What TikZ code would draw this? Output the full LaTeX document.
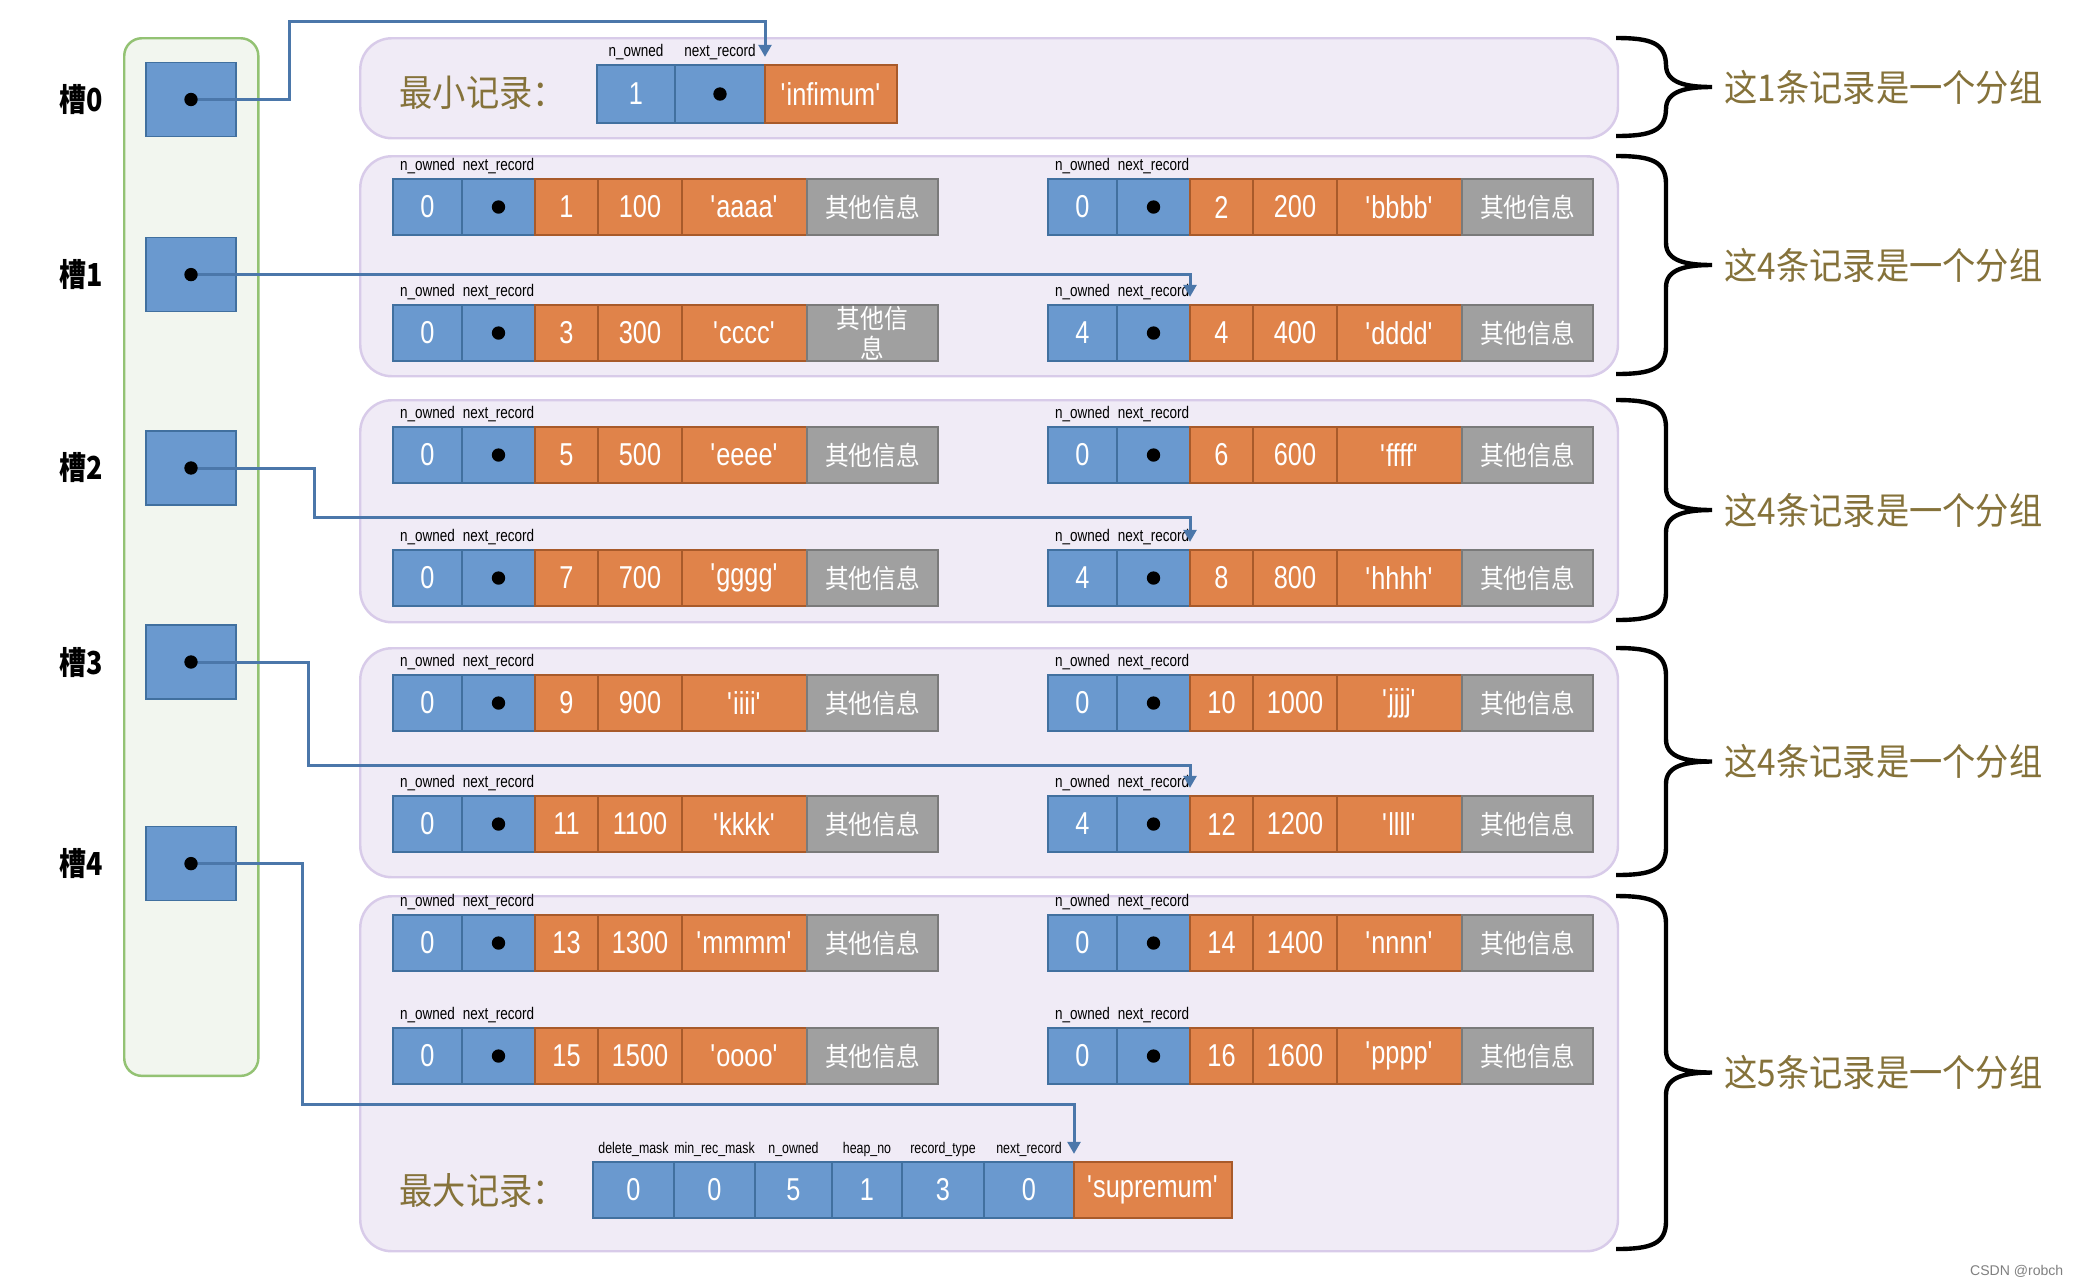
\documentclass[tikz,border=0pt]{standalone}
\usepackage{fontspec}
\setmainfont{Liberation Sans}
\newfontfamily\numfont[FakeStretch=0.8]{Liberation Sans}
\newfontfamily\cjkfont[FakeStretch=0.9]{Noto Sans CJK SC}
\newfontfamily\cjkslot[FakeStretch=0.85]{Noto Sans CJK SC}
\usetikzlibrary{positioning,arrows.meta}

\definecolor{cellblue}{HTML}{6A99CF}
\definecolor{blueedge}{HTML}{41709F}
\definecolor{cellorange}{HTML}{E0834A}
\definecolor{orangeedge}{HTML}{A85A2A}
\definecolor{cellgray}{HTML}{A0A0A0}
\definecolor{grayedge}{HTML}{7A7A7A}
\definecolor{grpfill}{HTML}{F0EBF6}
\definecolor{grpedge}{HTML}{D8CBE9}
\definecolor{colfill}{HTML}{F2F6EF}
\definecolor{coledge}{HTML}{93C273}
\definecolor{ptrblue}{HTML}{4B77AA}
\definecolor{tagbrown}{HTML}{85723A}

% one cell: name, x left, x right, y top, style, text
\newcommand{\mkcell}[6]{\node[#5, minimum width={(#3-#2)*0.01cm}] (#1) at (#2,#4) {#6};}

% one user record: name, x shift, y top, n_owned, no, num, str, rest
\newcommand{\recrow}[8]{%
  \begin{scope}[shift={(#2,0)}]
    \mkcell{#1n}{393}{462}{#3}{bluecell}{#4}
    \mkcell{#1p}{462}{535}{#3}{bluecell}{}
    \mkcell{#1a}{535}{598}{#3}{orangecell}{#5}
    \mkcell{#1b}{598}{682}{#3}{orangecell}{#6}
    \mkcell{#1c}{682}{807}{#3}{orangecell}{\textquotesingle#7\textquotesingle}
    \mkcell{#1o}{807}{938}{#3}{graycell}{#8}
    \fill (#1p) circle[radius=1.9pt];
    \node[fieldlbl] (#1nl) at ([yshift=2.4pt]#1n.north) {n\_owned};
    \node[fieldlbl] (#1pl) at ([yshift=2.4pt]#1p.north) {next\_record};
    \coordinate (#1t) at ([yshift=2.3pt]#1a.north west);
  \end{scope}}

\begin{document}
\begin{tikzpicture}[x=0.01cm, y=-0.01cm,
    bluecell/.style={draw=blueedge, fill=cellblue, anchor=north west, minimum height=0.56cm,
        inner sep=0pt, outer sep=0pt, text=white, font=\numfont\fontsize{9}{10}\selectfont},
    orangecell/.style={bluecell, draw=orangeedge, fill=cellorange},
    graycell/.style={bluecell, draw=grayedge, fill=cellgray, align=center,
        font=\cjkfont\fontsize{7.5}{8.5}\selectfont},
    fieldlbl/.style={font=\numfont\fontsize{4.8}{5.5}\selectfont, inner sep=0pt, anchor=base},
    maxlbl/.style={fieldlbl, font=\numfont\fontsize{4.4}{5}\selectfont},
    grp/.style={draw=grpedge, fill=grpfill, line width=0.7pt, rounded corners=9pt,
        anchor=north west, inner sep=0pt, minimum width=12.57cm},
    column/.style={draw=coledge, fill=colfill, line width=0.7pt, rounded corners=5pt,
        anchor=north west, inner sep=0pt, minimum width=1.34cm, minimum height=10.37cm},
    slotbox/.style={draw=blueedge, fill=cellblue, minimum width=0.9cm, minimum height=0.74cm, inner sep=0pt},
    slotlbl/.style={font=\cjkslot\bfseries\fontsize{9}{10}\selectfont, inner sep=0pt},
    ptr/.style={draw=ptrblue, line width=0.85pt, -{Triangle[length=3.4pt,width=3.6pt]}},
    brc/.style={line width=1.25pt, line join=miter},
    tag/.style={text=tagbrown, font=\cjkfont\fontsize{10.5}{12}\selectfont, anchor=west, inner sep=0pt}]

    \fill[white] (0,0) rectangle (2080,1284);
    \useasboundingbox (0,0) rectangle (2080,1284);

    % groups and braces
    \foreach \i/\ya/\yb/\n in {0/37/137/1, 1/155/375/4, 2/399/621/4, 3/647/876/4, 4/895/1250/5} {
        \node[grp, minimum height={(\yb-\ya)*0.01cm}] (g\i) at (359,\ya) {};
        \pgfmathsetmacro{\m}{(\ya+\yb)/2}
        \draw[brc] (1616,\ya+1) .. controls (1651,\ya+1) and (1666,\ya+6) .. (1666,\ya+29)
            -- (1666,\m-22) .. controls (1666,\m-4) and (1686,\m) .. (1712,\m)
            .. controls (1686,\m) and (1666,\m+4) .. (1666,\m+22)
            -- (1666,\yb-29) .. controls (1666,\yb-6) and (1651,\yb-1) .. (1616,\yb-1);
        \node[tag] (t\i) at (1724,\m) {这{\n}条记录是一个分组};
    }

    % slot directory
    \node[column] (dir) at (123,37) {};
    \foreach \i/\y in {0/99.5, 1/274.6, 2/468, 3/662, 4/863.6} {
        \node[slotbox] (s\i) at (191,\y) {};
        \node[slotlbl, left=0.42cm of s\i] (l\i) {槽{\i}};
    }

    % infimum
    \node[tag] (minlbl) at (399,93) {最小记录：};
    \mkcell{minn}{597}{675}{65}{bluecell, minimum height=0.58cm}{1}
    \mkcell{minp}{675}{765}{65}{bluecell, minimum height=0.58cm}{}
    \mkcell{mins}{765}{897}{65}{orangecell, minimum height=0.58cm}{\textquotesingle infimum\textquotesingle}
    \fill (minp) circle[radius=1.9pt];
    \node[fieldlbl] (minnl) at ([yshift=2.4pt]minn.north) {n\_owned};
    \node[fieldlbl] (minpl) at ([yshift=2.4pt]minp.north) {next\_record};
    \coordinate (mint) at ([yshift=2.3pt]mins.north west);

    % user records
    \recrow{g1la}{0}{179}{0}{1}{100}{aaaa}{其他信息}
    \recrow{g1ra}{655}{179}{0}{2}{200}{bbbb}{其他信息}
    \recrow{g1lb}{0}{305}{0}{3}{300}{cccc}{其他信\\息}
    \recrow{g1rb}{655}{305}{4}{4}{400}{dddd}{其他信息}
    \recrow{g2la}{0}{427}{0}{5}{500}{eeee}{其他信息}
    \recrow{g2ra}{655}{427}{0}{6}{600}{ffff}{其他信息}
    \recrow{g2lb}{0}{550}{0}{7}{700}{gggg}{其他信息}
    \recrow{g2rb}{655}{550}{4}{8}{800}{hhhh}{其他信息}
    \recrow{g3la}{0}{675}{0}{9}{900}{iiii}{其他信息}
    \recrow{g3ra}{655}{675}{0}{10}{1000}{jjjj}{其他信息}
    \recrow{g3lb}{0}{796}{0}{11}{1100}{kkkk}{其他信息}
    \recrow{g3rb}{655}{796}{4}{12}{1200}{llll}{其他信息}
    \recrow{g4la}{0}{915}{0}{13}{1300}{mmmm}{其他信息}
    \recrow{g4ra}{655}{915}{0}{14}{1400}{nnnn}{其他信息}
    \recrow{g4lb}{0}{1028}{0}{15}{1500}{oooo}{其他信息}
    \recrow{g4rb}{655}{1028}{0}{16}{1600}{pppp}{其他信息}

    % supremum
    \node[tag] (maxlbl) at (399,1190) {最大记录：};
    \foreach \k/\xa/\xb/\v/\f in {1/593/674/0/delete\_mask, 2/674/755/0/min\_rec\_mask,
        3/755/832/5/n\_owned, 4/832/902/1/heap\_no, 5/902/984/3/record\_type, 6/984/1074/0/next\_record} {
        \mkcell{mx\k}{\xa}{\xb}{1162}{bluecell}{\v}
        \node[maxlbl] (mxl\k) at ([yshift=2.4pt]mx\k.north) {\f};
    }
    \mkcell{mxs}{1074}{1232}{1162}{orangecell}{\textquotesingle supremum\textquotesingle}
    \coordinate (maxt) at ([yshift=2.3pt]mxs.north west);

    % slot pointers
    \draw[ptr] (s0.center) -| (289,21) -| (mint);
    \draw[ptr] (s1.center) -| (g1rbt);
    \draw[ptr] (s2.center) -| (314,517) -| (g2rbt);
    \draw[ptr] (s3.center) -| (308,765) -| (g3rbt);
    \draw[ptr] (s4.center) -| (302,1104) -| (maxt);
    \foreach \i in {0,...,4} {
        \fill (s\i) circle[radius=1.9pt];
    }

    \node[anchor=east, text=gray, font=\fontsize{4}{5}\selectfont, inner sep=0pt] (csdn) at (2064,1271) {CSDN @robch};

\end{tikzpicture}
\end{document}
